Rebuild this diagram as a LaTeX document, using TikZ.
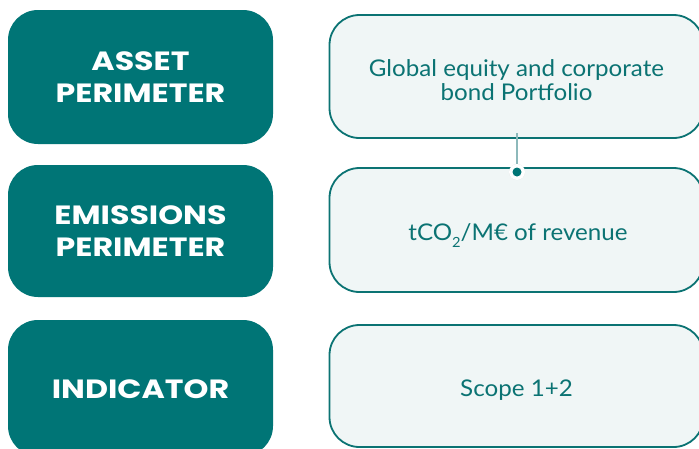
\documentclass[tikz,border=0pt]{standalone}
\usepackage{fontspec}
\setmainfont{Lato}[FakeStretch=1.05]
\newfontfamily\headfont{Poppins}[UprightFont=* Bold, FakeStretch=1.2]
\usetikzlibrary{shadows}
\definecolor{tealdark}{HTML}{007576}
\definecolor{tealline}{HTML}{0B7373}
\definecolor{palefill}{HTML}{F0F6F6}
\definecolor{connline}{HTML}{8DB9BB}
\tikzset{
  headbox/.style={draw=none, fill=tealdark, rounded corners=30pt, minimum width=265pt, inner sep=0pt},
  headtext/.style={align=center, text=white, font=\headfont\fontsize{26.4}{32.7}\selectfont, inner sep=0pt},
  infobox/.style={draw=tealline, line width=1.8pt, fill=palefill, rounded corners=30pt, minimum width=374pt, inner sep=0pt},
  infotext/.style={align=center, text=tealline, font=\fontsize{23}{24}\selectfont, inner sep=0pt},
}
\begin{document}
\begin{tikzpicture}[x=1pt,y=-1pt]
\useasboundingbox (0,0) rectangle (699,448);
\fill[white] (0,0) rectangle (699,448);
% left boxes
\node[headbox, minimum height=134pt] (h1) at (140.5,77) {};
\node[headbox, minimum height=132pt] (h2) at (140.5,231) {};
\node[headbox, minimum height=136pt] (h3) at (140.5,388) {};
\node[headtext] (ht1) at (h1.center) [yshift=-0.2pt] {ASSET\\PERIMETER};
\node[headtext] (ht2) at (h2.center) {EMISSIONS\\PERIMETER};
\node[headtext] (ht3) at (140.5,389) {INDICATOR};
% right boxes
\node[infobox, minimum height=123pt] (r1) at (516.5,76.5) {};
\node[infobox, minimum height=124pt] (r2) at (516.5,230) {};
\node[infobox, minimum height=122pt] (r3) at (516.5,386) {};
\node[infotext] (rt1) at (516.5,80) {Global equity and corporate\\bond Portfolio};
\node[infotext, anchor=base] (rt2) at (518,240.7) {tCO\raisebox{-7pt}{\fontsize{14}{14}\selectfont 2}/M€ of revenue};
\node[infotext, anchor=base] (rt3) at (516.5,396.7) {Scope 1+2};
% connector
\coordinate (c1) at (517,133);
\coordinate (dot) at (517,172);
\draw[connline, line width=2pt] (c1) -- (dot);
\fill[white, drop shadow={shadow xshift=0pt, shadow yshift=0pt, opacity=0.25}] (dot) circle (8pt);
\fill[tealdark] (dot) circle (4.5pt);
\end{tikzpicture}
\end{document}
